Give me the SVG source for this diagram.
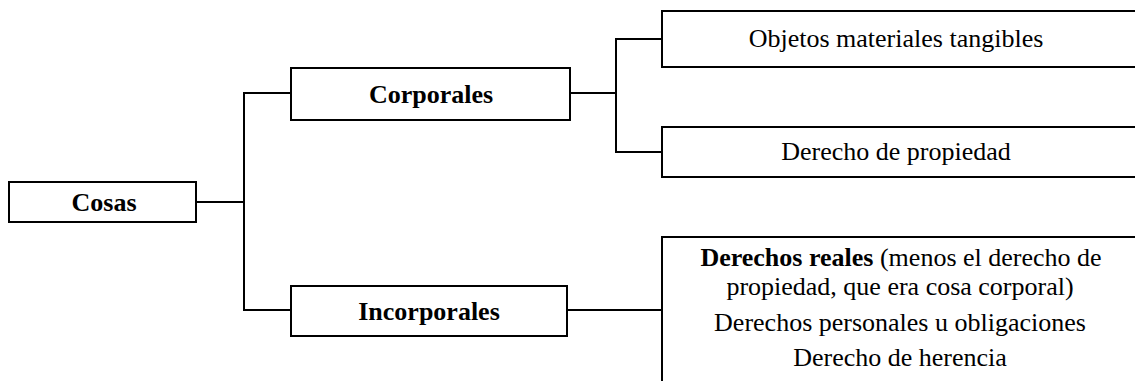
<svg xmlns="http://www.w3.org/2000/svg" width="1135" height="381" viewBox="0 0 1135 381">
<style>
.box{fill:#fff;stroke:#000;stroke-width:2}
.ln{fill:none;stroke:#000;stroke-width:2}
text{font-family:"Liberation Serif","Times New Roman",serif;font-size:26px;fill:#000;text-anchor:middle}
.b{font-weight:bold}
</style>
<rect width="1135" height="381" fill="#fff"/>
<g id="connectors">
<polyline class="ln" points="196,202 244,202"/>
<polyline class="ln" points="291,93 244,93 244,310 291,310"/>
<polyline class="ln" points="570,93 616,93"/>
<polyline class="ln" points="662,39 616,39 616,152 662,152"/>
<polyline class="ln" points="567,310 662,310"/>
</g>
<g id="cosas"><rect class="box" x="9" y="182" width="187" height="40"/><text class="b" x="104" y="211">Cosas</text></g>
<g id="corporales"><rect class="box" x="291" y="68" width="279" height="52"/><text class="b" x="431" y="103">Corporales</text></g>
<g id="incorporales"><rect class="box" x="291" y="286" width="276" height="50"/><text class="b" x="429" y="320">Incorporales</text></g>
<g id="objetos"><rect class="box" x="662" y="11" width="500" height="56"/><text x="896" y="47">Objetos materiales tangibles</text></g>
<g id="propiedad"><rect class="box" x="662" y="127" width="500" height="50"/><text x="896" y="160">Derecho de propiedad</text></g>
<g id="incorp-list"><rect class="box" x="662" y="237" width="500" height="160"/>
<text x="901" y="266"><tspan class="b">Derechos reales</tspan> (menos el derecho de</text>
<text x="900" y="295">propiedad, que era cosa corporal)</text>
<text x="900" y="331">Derechos personales u obligaciones</text>
<text x="900" y="366">Derecho de herencia</text>
</g>
</svg>
